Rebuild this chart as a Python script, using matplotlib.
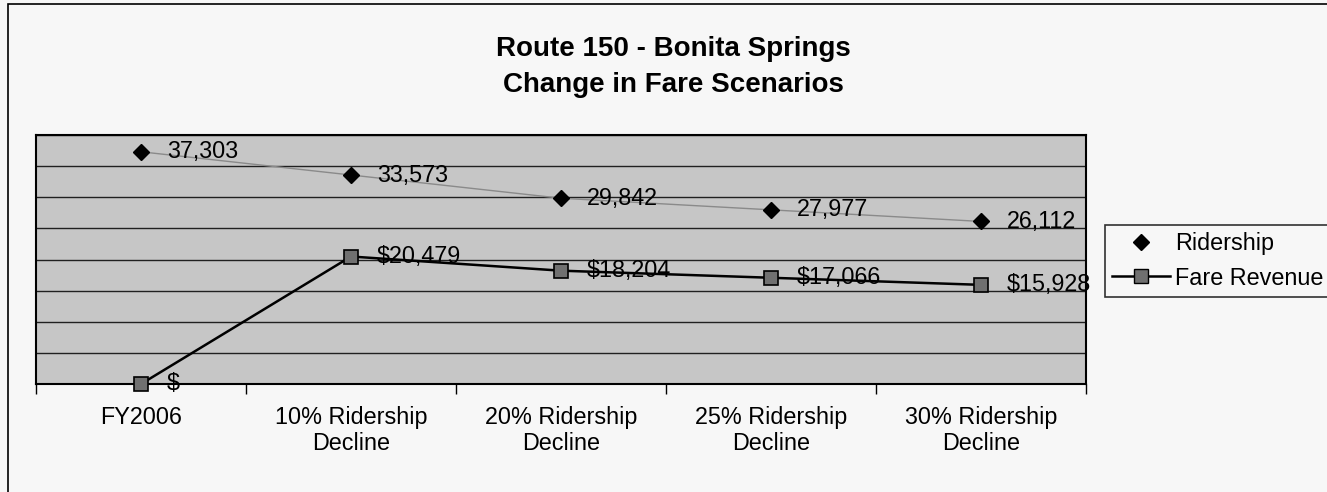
import matplotlib
matplotlib.use("Agg")
import matplotlib.pyplot as plt
from matplotlib.lines import Line2D
from matplotlib.patches import Rectangle

categories = ["FY2006", "10% Ridership\nDecline", "20% Ridership\nDecline",
              "25% Ridership\nDecline", "30% Ridership\nDecline"]
ridership = [37303, 33573, 29842, 27977, 26112]
fare_revenue = [0, 20479, 18204, 17066, 15928]
ridership_labels = ["37,303", "33,573", "29,842", "27,977", "26,112"]
fare_labels = ["$-", "$20,479", "$18,204", "$17,066", "$15,928"]
title_lines = ["Route 150 - Bonita Springs", "Change in Fare Scenarios"]

plt.rcParams['font.family'] = ['Liberation Sans', 'DejaVu Sans']

W, H = 1327, 492
fig = plt.figure(figsize=(W / 100, H / 100), dpi=100)
fig.patch.set_facecolor('#f7f7f7')

# outer frame (right and bottom edges lie outside the image)
fig.patches.append(Rectangle((8 / W, -0.1), 1.2, 1 - 4 / H + 0.1, transform=fig.transFigure,
                             fill=False, edgecolor='black', linewidth=1.2))

ax = fig.add_axes([36 / W, 1 - 384 / H, (1086 - 36) / W, (384 - 135) / H])
ax.set_facecolor('#c6c6c6')

x = list(range(len(categories)))
ax.set_xlim(-0.5, len(categories) - 0.5)
ax.set_ylim(0, 40000)
ax.set_yticks(range(0, 40001, 5000))
ax.yaxis.grid(True, color='#202020', linewidth=1.0)
ax.set_axisbelow(True)
ax.tick_params(axis='y', left=False, labelleft=False)

ax.set_xticks(x)
ax.set_xticklabels(categories, fontsize=16.8, linespacing=1.15)
ax.tick_params(axis='x', which='major', length=0, pad=16)
ax.set_xticks([i + 0.5 for i in range(-1, len(categories))], minor=True)
ax.tick_params(axis='x', which='minor', length=7, width=1, direction='out')

for s in ax.spines.values():
    s.set_color('black')
    s.set_linewidth(1.5)

ax.plot(x, ridership, color='#8a8a8a', linewidth=1.0, marker='D', markersize=8,
        markerfacecolor='black', markeredgecolor='black', zorder=3)
ax.plot(x, fare_revenue, color='black', linewidth=1.8, marker='s', markersize=10,
        markerfacecolor='#707070', markeredgecolor='black', markeredgewidth=1.2,
        zorder=3, clip_on=False)

for xi, v, lab in zip(x, ridership, ridership_labels):
    ax.annotate(lab, (xi, v), xytext=(18.5, 0), textcoords='offset points',
                va='center', ha='left', fontsize=16.8, zorder=4)
for xi, v, lab in zip(x, fare_revenue, fare_labels):
    ax.annotate(lab, (xi, v), xytext=(18.5, 0), textcoords='offset points',
                va='center', ha='left', fontsize=16.8, zorder=4, annotation_clip=False)

fig.text(673 / W, 1 - 56 / H, title_lines[0], ha='center', va='baseline', fontsize=20,
         fontweight='bold')
fig.text(673 / W, 1 - 92 / H, title_lines[1], ha='center', va='baseline', fontsize=20,
         fontweight='bold')

handles = [Line2D([], [], linestyle='none', marker='D', markersize=8, color='black'),
           Line2D([], [], color='black', linewidth=1.8, marker='s', markersize=10,
                  markerfacecolor='#707070', markeredgecolor='black')]
leg = fig.legend(handles, ["Ridership", "Fare Revenue"], loc='upper left',
                 bbox_to_anchor=(1105 / W, 1 - 225 / H), fontsize=16.8, frameon=True,
                 fancybox=False, edgecolor='black', facecolor='#f7f7f7',
                 borderaxespad=0, handlelength=2.5, handletextpad=0.2,
                 borderpad=0.3, labelspacing=0.5)
leg.get_frame().set_linewidth(1.2)

fig.savefig("out.png", dpi=100, facecolor=fig.get_facecolor())
